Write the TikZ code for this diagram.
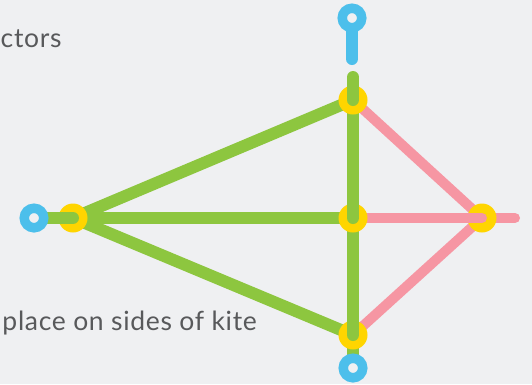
\documentclass[tikz,border=0pt]{standalone}
\usepackage{fontspec}
\setmainfont[LetterSpace=2.5]{Lato}
\definecolor{bg}{HTML}{EFF0F2}
\definecolor{grn}{HTML}{8DC63F}
\definecolor{pnk}{HTML}{F696A3}
\definecolor{yel}{HTML}{FFD500}
\definecolor{blu}{HTML}{4CBFEB}
\definecolor{txt}{HTML}{58595B}
\tikzset{
  gline/.style={draw=grn,line width=12pt,line cap=round},
  pline/.style={draw=pnk,line width=10pt,line cap=round},
  bline/.style={draw=blu,line width=12pt,line cap=round},
  ydisc/.style={circle,fill=yel,minimum size=29pt,inner sep=0pt},
  bring/.style={circle,draw=blu,line width=9.5pt,fill=bg,minimum size=19.5pt,inner sep=0pt},
  lbl/.style={text=txt,font=\fontsize{26.5}{30}\selectfont,inner sep=0pt}
}
\begin{document}
\begin{tikzpicture}[x=1pt,y=-1pt]
\fill[bg] (0,0) rectangle (532,384);
\useasboundingbox (0,0) rectangle (532,384);
% positions
\coordinate (L) at (73,218);
\coordinate (T) at (353,100);
\coordinate (M) at (353,218);
\coordinate (B) at (353,335);
\coordinate (R) at (482,218);
\coordinate (Rend) at (515,218);
\coordinate (gtop) at (353,77);
\coordinate (btop) at (352,18);
\coordinate (bstem) at (352,59);
\coordinate (bL) at (34,218);
\coordinate (bB) at (353,368);
% lines beneath all discs
\draw[gline] (L) -- (T);
\draw[gline] (L) -- (M);
\draw[gline] (L) -- (B);
\draw[pline] (T) -- (R);
\draw[pline] (B) -- (R);
\draw[pline] (R) -- (Rend);
\draw[gline] (B) -- (bB);
% discs and overlapping segments
\node[ydisc] (nB) at (B) {};
\node[ydisc] (nR) at (R) {};
\draw[gline] (M) -- (nB.center);
\draw[pline] (M) -- (nR.center);
\node[ydisc] (nM) at (M) {};
\draw[gline] (T) -- (nM.center);
\node[ydisc] (nT) at (T) {};
\draw[gline] (gtop) -- (nT.center);
\node[ydisc] (nL) at (L) {};
\draw[gline] (bL) -- (nL.center);
% blue ends
\node[bring] (nbL) at (bL) {};
\node[bring] (nbB) at (bB) {};
\draw[bline] (btop) -- (bstem);
\node[bring] (nbT) at (btop) {};
% texts
\node[lbl,anchor=base west] (t1) at (0.5,47) {ctors};
\node[lbl,anchor=base east] (t2) at (257,330) {place on sides of kite};
\end{tikzpicture}
\end{document}
